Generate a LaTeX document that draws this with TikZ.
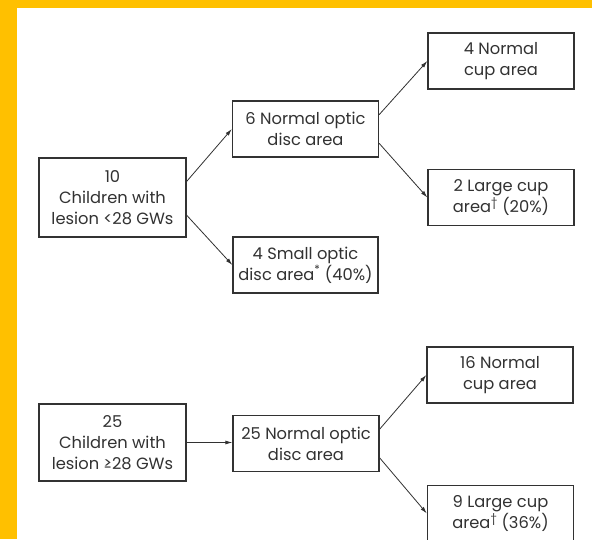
\documentclass[tikz,border=0pt]{standalone}
\usepackage{fontspec}
\setmainfont{Poppins}
\usetikzlibrary{arrows.meta,calc}
\definecolor{frameorange}{RGB}{255,192,0}
\definecolor{ink}{RGB}{50,50,50}
\begin{document}
\begin{tikzpicture}[x=1pt,y=-1pt,
  box/.style={draw=ink,line width=1.3pt,text=ink,align=center,inner sep=0pt,
    minimum width=146pt,minimum height=56pt,
    font=\fontsize{16.3}{21}\selectfont},
  arr/.style={draw=ink,line width=0.8pt,-{Latex[length=7pt,width=4pt]}}]
\useasboundingbox (0,0) rectangle (592,539);
\fill[frameorange] (0,0) rectangle (592,539);
\fill[white] (17,8) rectangle (592,539);
% top tree
\node[box,minimum width=147pt,minimum height=79pt] (A) at (112.5,197.5) {10\\Children with\\lesion <28 GWs};
\node[box] (B) at (305.5,129) {6 Normal optic\\disc area};
\node[box,minimum width=145pt] (C) at (305.5,265) {4 Small optic\\disc area\textsuperscript{*} (40\%)};
\node[box] (D) at (501,61) {4 Normal\\cup area};
\node[box] (E) at (501,197.5) {2 Large cup\\area\textsuperscript{†} (20\%)};
% bottom tree
\node[box,minimum width=147pt,minimum height=77pt] (F) at (112.5,442.5) {25\\Children with\\lesion ≥28 GWs};
\node[box] (G) at (306,443.5) {25 Normal optic\\disc area};
\node[box] (H) at (500,375) {16 Normal\\cup area};
\node[box] (I) at (500.5,513.5) {9 Large cup\\area\textsuperscript{†} (36\%)};
% connectors
\draw[arr] ($(A.north east)!0.3!(A.south east)$) -- (B.west);
\draw[arr] ($(A.north east)!0.72!(A.south east)$) -- (C.west);
\draw[arr] ($(B.north east)!0.25!(B.south east)$) -- (D.west);
\draw[arr] ($(B.north east)!0.75!(B.south east)$) -- (E.west);
\draw[arr] (F.east) -- (F.east -| G.west);
\draw[arr] ($(G.north east)!0.25!(G.south east)$) -- (H.west);
\draw[arr] ($(G.north east)!0.75!(G.south east)$) -- (I.west);
\end{tikzpicture}
\end{document}
